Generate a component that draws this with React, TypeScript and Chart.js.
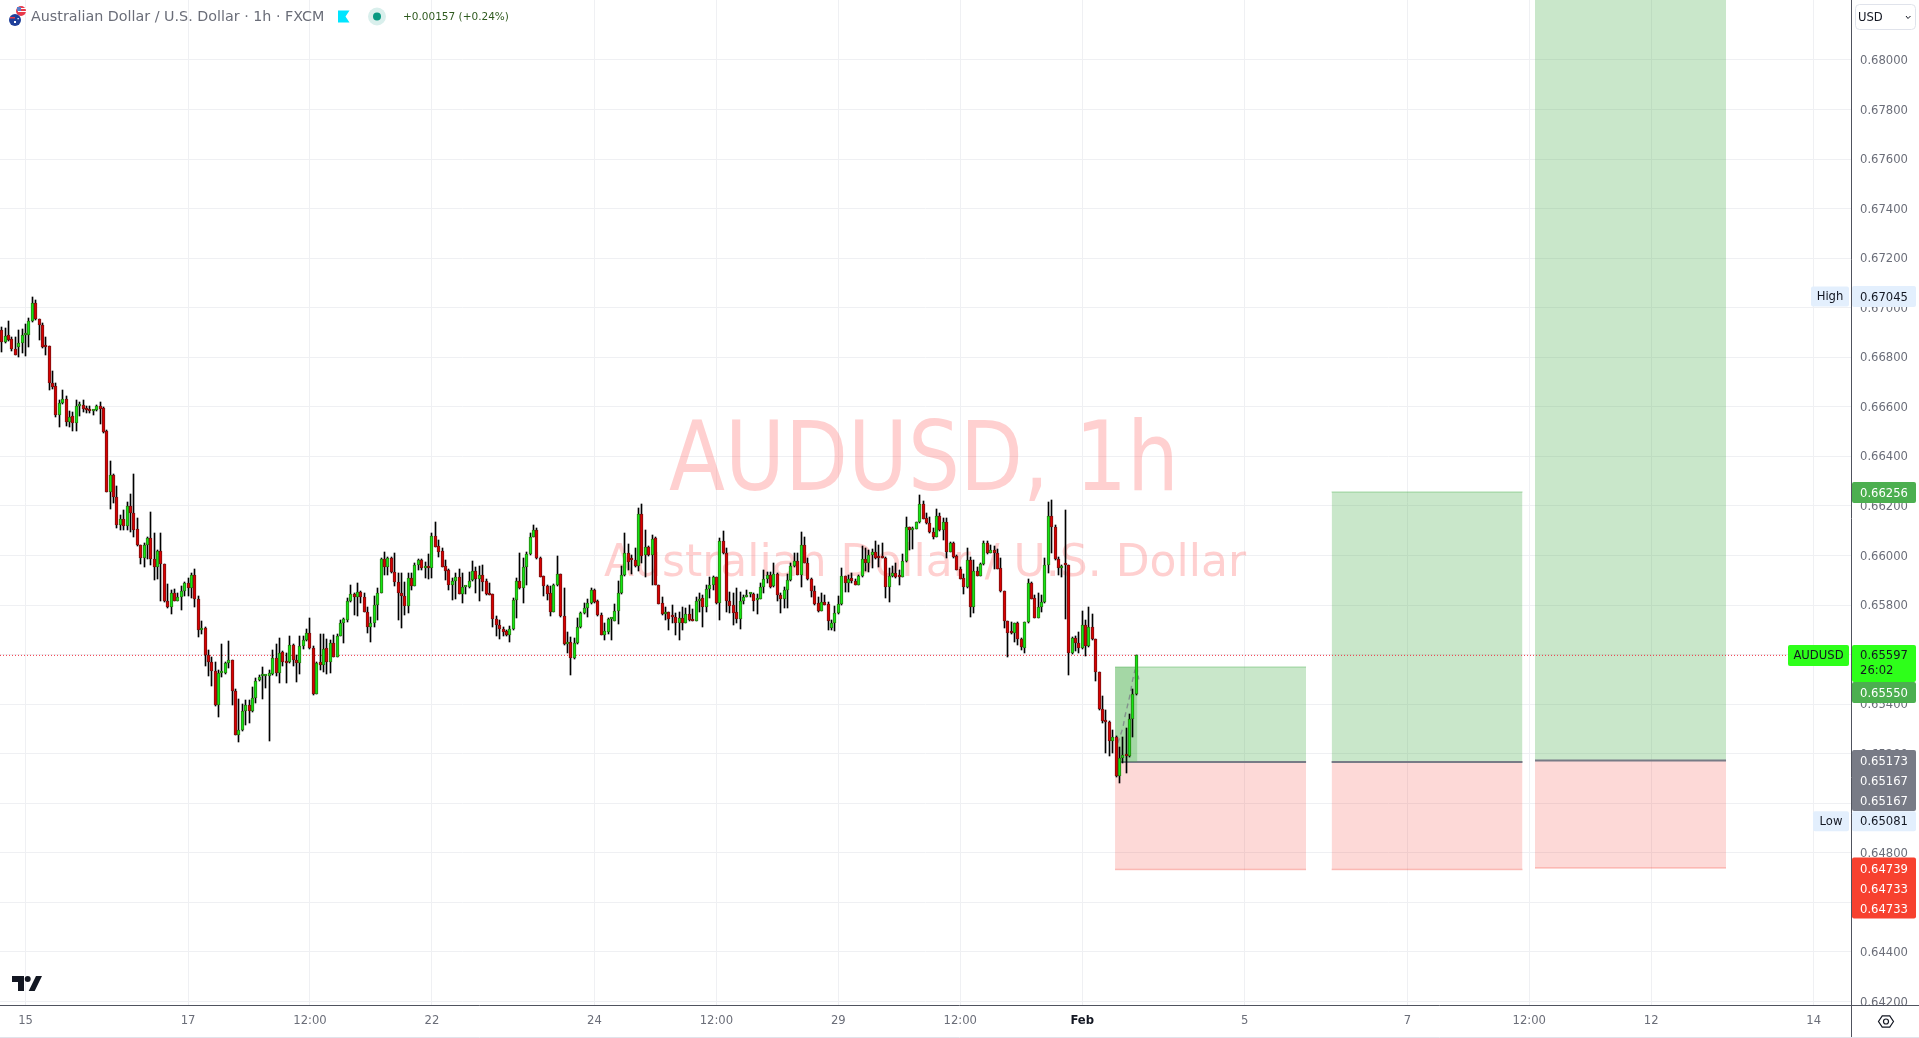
import React, { useEffect, useRef } from "react";
import { Chart, registerables } from "chart.js";

Chart.register(...registerables);

const toPrice = (p: number) => p / 100000;

const opens = [66910,66863,66889,66873,66832,66843,66856,66889,66889,66945,
67018,66953,66929,66844,66844,66695,66683,66569,66614,66630,
66540,66563,66534,66604,66606,66594,66586,66585,66586,66604,
66595,66501,66258,66324,66235,66123,66146,66121,66199,66171,
66106,66044,65992,66041,66070,65985,65953,66017,65965,65818,
65794,65848,65818,65834,65858,65888,65867,65920,65823,65698,
65708,65600,65569,65532,65396,65525,65525,65565,65577,65452,
65277,65294,65374,65396,65372,65424,65497,65513,65514,65515,
65522,65585,65524,65611,65569,65569,65638,65580,65565,65634,
65658,65686,65628,65443,65569,65560,65626,65569,65646,65592,
65677,65727,65741,65815,65844,65832,65852,65834,65774,65711,
65727,65799,65850,65985,65955,65989,65935,65895,65850,65837,
65798,65908,65879,65961,
65982,65951,65952,65949,66079,66039,66019,65957,65942,65883,
65899,65912,65846,65872,65872,65901,65936,65904,65920,65896,
65848,65845,65743,65719,65705,65694,65680,65702,65821,65896,
65867,65953,66005,66074,66103,65989,65916,65877,65848,65774,
65880,65924,65754,65642,65650,65588,65646,65711,65767,65787,
65807,65860,65815,65760,65681,65692,65743,65737,65775,65848,
65920,66009,65982,65982,65958,66166,66001,66033,66004,66070,
65883,65807,65763,65772,65751,65751,65729,65747,65729,65763,
65743,65737,65815,65828,65794,65864,65883,65912,65810,66058,
66009,65817,65799,65771,65744,65815,65832,65843,65845,65820,
65826,65872,65904,65920,65875,65924,65840,65823,65861,65901,
65957,65977,65923,66041,65971,65904,65856,65807,65778,65814,
65803,65709,65727,65767,65803,65916,65888,65908,65896,65883,
65916,65985,65971,66001,66014,65993,65992,65990,65871,65919,
65928,65915,65915,65976,66114,66101,66109,66134,66208,66152,
66130,66095,66076,66160,66101,66134,66016,66049,65997,65945,
65908,65871,65982,65794,65936,65919,65965,66049,66012,66023,
66009,65949,65856,65735,65689,65689,65727,65663,65628,65731,
65888,65828,65747,65791,65811,65962,66160,66114,65985,65950,
65961,65961,65606,65666,65646,65626,65719,65635,65712,65662,
65529,65380,65331,65329,65250,65269,65112,65181,65199,65189,
65342,65440].map(toPrice);

const highs = [66924,66917,66947,66883,66881,66910,66913,66933,66959,67045,
67031,66953,66937,66883,66846,66745,66696,66628,66668,66644,
66585,66581,66628,66621,66628,66604,66604,66587,66608,66620,
66601,66507,66382,66329,66281,66164,66184,66216,66249,66329,
66152,66044,66052,66076,66176,66090,66023,66091,65966,65885,
65861,65865,65850,65877,65893,65908,65928,65946,65837,65736,
65711,65619,65592,65571,65538,65643,65572,65655,65579,65460,
65420,65401,65417,65415,65468,65505,65517,65549,65518,65538,
65619,65643,65666,65615,65608,65676,65642,65599,65676,65676,
65705,65747,65633,65571,65682,65682,65662,65659,65680,65684,
65740,65748,65830,65881,65850,65888,65856,65848,65791,65751,
65837,65867,65989,66014,65996,65993,66009,65928,65928,65895,
65931,65928,65969,65985,
65985,65975,66006,66092,66136,66063,66029,65982,65945,65908,
65928,65946,65928,65873,65935,65978,65953,65958,65962,65904,
65888,65845,65756,65740,65713,65700,65716,65828,65908,66009,
65989,66016,66090,66123,66110,65996,65918,65880,65875,65885,
65998,65926,65868,65693,65673,65666,65747,65774,65810,65823,
65867,65864,65821,65767,65727,65747,65744,65805,65899,65958,
66090,66047,66002,66029,66191,66207,66101,66039,66083,66076,
65883,65832,65794,65774,65801,65767,65774,65794,65787,65801,
65783,65832,65848,65841,65881,65915,65919,65915,66070,66099,
66029,65853,65848,65868,65854,65841,65861,65848,65850,65845,
65888,65942,65935,65935,65969,65928,65848,65872,65926,65969,
66009,66012,66095,66076,65989,65908,65875,65834,65848,65841,
65814,65740,65797,65837,65949,65918,65922,65928,65907,65922,
66039,66029,66023,66025,66058,66043,66052,65993,65949,65958,
65969,65942,66006,66157,66117,66114,66137,66244,66222,66170,
66157,66110,66187,66170,66150,66150,66056,66056,66002,65955,
65926,66029,65996,65982,65955,65969,66059,66059,66041,66040,
66025,65992,65856,65737,65733,65729,65733,65666,65733,65904,
65895,65841,65848,65841,65989,66216,66224,66123,65996,65962,
66184,65962,65673,65677,65693,65778,65740,65791,65763,65665,
65530,65433,65377,65334,65296,65272,65229,65269,65303,65361,
65460,65597].map(toPrice);

const lows = [66823,66859,66867,66827,66809,66803,66819,66805,66843,66944,
66951,66870,66839,66811,66668,66674,66561,66520,66612,66523,
66520,66504,66504,66563,66581,66577,66577,66569,66585,66531,
66496,66258,66189,66214,66110,66103,66101,66101,66095,66076,
66039,65967,65955,65985,65962,65903,65907,65818,65814,65790,
65762,65815,65817,65780,65837,65837,65830,65794,65671,65684,
65554,65515,65475,65394,65350,65509,65522,65545,65398,65275,
65249,65292,65318,65323,65369,65404,65495,65419,65466,65253,
65517,65514,65487,65554,65487,65568,65554,65491,65522,65624,
65657,65624,65439,65442,65538,65530,65522,65525,65589,65591,
65676,65646,65732,65813,65759,65754,65810,65772,65686,65651,
65713,65740,65848,65922,65922,65928,65877,65740,65708,65760,
65767,65861,65877,65942,
65942,65908,65904,65908,66033,65996,65953,65901,65861,65821,
65823,65844,65810,65845,65869,65899,65850,65818,65857,65841,
65841,65713,65676,65665,65676,65676,65651,65700,65748,65864,
65810,65880,66002,66074,65985,65912,65837,65821,65756,65772,
65877,65751,65638,65608,65516,65584,65643,65709,65764,65751,
65805,65810,65756,65678,65659,65684,65659,65735,65724,65845,
65918,65942,65926,65955,65939,65969,65915,65998,65881,65880,
65805,65759,65740,65700,65727,65680,65659,65700,65727,65737,
65735,65735,65774,65711,65774,65828,65861,65805,65740,66006,
65774,65770,65720,65727,65705,65805,65832,65834,65778,65762,
65823,65848,65888,65868,65872,65818,65770,65787,65787,65899,
65953,65920,65872,65969,65901,65832,65802,65774,65775,65799,
65700,65700,65697,65764,65801,65854,65854,65891,65880,65880,
65914,65939,65935,65949,65985,65953,65989,65830,65814,65915,
65910,65881,65912,65974,66023,66025,66106,66133,66148,66127,
66090,66066,66074,66099,66063,65988,66014,65990,65942,65904,
65845,65868,65750,65767,65918,65918,65962,66006,66009,65945,
65945,65853,65706,65592,65685,65653,65639,65619,65608,65729,
65823,65746,65746,65774,65810,65931,66009,65982,65922,65915,
65743,65516,65603,65616,65608,65624,65595,65632,65659,65495,
65377,65323,65205,65189,65205,65105,65081,65162,65124,65186,
65269,65439].map(toPrice);

const closes = [66863,66887,66870,66832,66811,66856,66889,66890,66945,67018,
66953,66929,66840,66843,66695,66682,66569,66614,66630,66540,
66561,66534,66604,66605,66593,66586,66585,66587,66604,66593,
66500,66258,66324,66235,66123,66146,66121,66199,66171,66103,
66044,65992,66041,66070,65985,65953,66017,65965,65818,65793,
65848,65818,65834,65858,65888,65867,65920,65823,65698,65706,
65598,65569,65532,65396,65525,65526,65565,65577,65452,65277,
65294,65374,65396,65372,65424,65495,65511,65514,65515,65524,
65585,65524,65608,65569,65568,65638,65580,65565,65634,65658,
65686,65628,65443,65568,65560,65624,65569,65646,65592,65677,
65727,65743,65815,65844,65832,65852,65834,65774,65711,65727,
65799,65850,65985,65955,65989,65935,65895,65850,65837,65798,
65908,65879,65961,65980,
65951,65952,65951,66079,66036,66016,65955,65939,65883,65899,
65912,65846,65872,65873,65899,65936,65904,65920,65895,65845,
65842,65743,65719,65705,65693,65680,65702,65821,65896,65867,
65953,66005,66074,66101,65988,65915,65875,65846,65774,65880,
65924,65754,65641,65649,65588,65646,65711,65767,65787,65807,
65861,65814,65758,65681,65694,65743,65744,65775,65848,65920,
66009,65975,65981,65958,66166,65998,66033,66002,66068,65883,
65805,65762,65772,65745,65750,65729,65747,65729,65763,65740,
65736,65815,65826,65794,65864,65883,65914,65809,66058,66009,
65815,65798,65770,65744,65815,65832,65842,65844,65818,65828,
65872,65907,65920,65872,65924,65840,65823,65861,65901,65958,
65977,65923,66041,65971,65904,65856,65805,65778,65813,65802,
65735,65727,65767,65803,65916,65888,65906,65896,65883,65916,
65985,65971,66001,66014,65988,65992,65991,65871,65919,65928,
65912,65914,65978,66114,66101,66106,66134,66208,66149,66130,
66094,66076,66160,66101,66134,66016,66049,65994,65943,65907,
65871,65982,65794,65936,65919,65965,66049,66012,66023,66009,
65947,65856,65735,65686,65686,65727,65662,65630,65731,65888,
65826,65747,65791,65811,65962,66160,66114,65985,65949,65958,
65960,65606,65666,65646,65626,65719,65635,65712,65662,65528,
65380,65331,65330,65250,65269,65112,65181,65195,65189,65342,
65440,65597].map(toPrice);

const xTickIndexes = [7, 55, 91, 127, 175, 211, 247, 283, 319, 367, 415, 451, 487, 535];
const xTickLabels = ["15", "17", "12:00", "22", "24", "12:00", "29", "12:00", "Feb", "5", "7", "12:00", "12", "14"];
const yTickValues = [0.642, 0.644, 0.646, 0.648, 0.65, 0.652, 0.654, 0.656, 0.658, 0.66, 0.662, 0.664, 0.666, 0.668, 0.67, 0.672, 0.674, 0.676, 0.678, 0.68];

const xMin = -0.53;
const xMax = 546;
const yMin = 0.64186;
const yMax = 0.68242;

const lastPrice = 0.65597;
const highPrice = 0.67045;
const lowPrice = 0.65081;

// Long-position tools: start bar, end bar, entry, target, stop
const positionStarts = [328.7, 392.65, 452.7];
const positionEnds = [385.1, 449, 509.1];
const positionEntries = [0.65167, 0.65167, 0.65173];
const positionTargets = [0.6555, 0.66256, 0.69];
const positionStops = [0.64733, 0.64733, 0.64739];
const progressStart = 328.7;
const progressEnd = 335.3;

const projectionBars = [329.5, 331, 331.6, 333, 333.9, 334.6, 335.2, 334.6, 335.2, 335.7];
const projectionPrices = [0.65243, 0.65303, 0.6535, 0.6543, 0.65498, 0.65538, 0.65545, 0.655, 0.65545, 0.655];

const GREEN_BODY = "#14e614";
const GREEN_EDGE = "#2b7d14";
const RED_BODY = "#d80000";
const RED_EDGE = "#7c1010";
const FONT = '"DejaVu Sans", sans-serif';

const snapPlugin = {
  id: "snap",
  beforeDraw(chart: any) {
    ["x", "y"].forEach((id) => {
      const s = chart.scales[id];
      if (s.$shifted) return;
      s.$shifted = true;
      s.getLabelItems().forEach((it: any) => {
        it.textOffset += 1;
      });
    });
  },
  beforeDatasetsDraw(chart: any) {
    chart.data.datasets.forEach((d: any, idx: number) => {
      if (d.type !== "bar") return;
      chart.getDatasetMeta(idx).data.forEach((el: any) => {
        el.x = Math.floor(el.x) + 0.5;
        el.y = Math.round(el.y);
        el.base = Math.round(el.base);
      });
    });
  },
};

const watermarkPlugin = {
  id: "watermark",
  beforeDatasetsDraw(chart: any) {
    const ctx = chart.ctx;
    ctx.save();
    ctx.fillStyle = "rgba(255,82,82,0.27)";
    ctx.textAlign = "center";
    ctx.textBaseline = "alphabetic";
    ctx.font = `44px ${FONT}`;
    ctx.fillText("Australian Dollar / U.S. Dollar", 925, 576);
    ctx.translate(924, 490);
    ctx.scale(0.853, 1);
    ctx.font = `96px ${FONT}`;
    ctx.fillText("AUDUSD, 1h", 0, 0);
    ctx.restore();
  },
};

function tag(ctx: any, x: number, y: number, w: number, h: number, bg: string, r = 2) {
  ctx.fillStyle = bg;
  ctx.beginPath();
  ctx.roundRect(x, y, w, h, r);
  ctx.fill();
}

const overlayPlugin = {
  id: "overlay",
  afterDraw(chart: any) {
    const ctx = chart.ctx;
    const y = chart.scales.y;
    const at = (p: number) => y.getPixelForValue(p);
    const AX = 1851;
    const txt = (s: string, px: number, py: number) => ctx.fillText(s, px, py + 1);
    ctx.save();

    // axis corner
    ctx.fillStyle = "#ffffff";
    ctx.fillRect(AX + 1, 1005, 68, 33);
    ctx.strokeStyle = "#50535e";
    ctx.lineWidth = 1;
    ctx.beginPath();
    ctx.moveTo(0, 1005.5);
    ctx.lineTo(1919, 1005.5);
    ctx.moveTo(AX + 0.5, 0);
    ctx.lineTo(AX + 0.5, 1037);
    ctx.stroke();
    ctx.strokeStyle = "#e0e3eb";
    ctx.beginPath();
    ctx.moveTo(0, 1037.5);
    ctx.lineTo(1919, 1037.5);
    ctx.stroke();

    ctx.textBaseline = "middle";
    ctx.textAlign = "left";
    const priceFont = `11.6px ${FONT}`;

    const priceTag = (price: number, offset: number, bg: string, fg: string, text: string) => {
      const c = at(price) + offset;
      tag(ctx, AX + 1, c - 10.5, 64, 21, bg);
      ctx.fillStyle = fg;
      ctx.font = priceFont;
      txt(text, 1860, c);
    };

    // High
    tag(ctx, 1811, at(highPrice) - 10, 38, 20, "#e3effd");
    ctx.fillStyle = "#131722";
    ctx.font = priceFont;
    ctx.textAlign = "center";
    txt("High", 1830, at(highPrice) - 1);
    ctx.textAlign = "left";
    priceTag(highPrice, 0, "#e3effd", "#131722", highPrice.toFixed(5));

    // Target 2
    priceTag(positionTargets[1], 0.5, "#4caf50", "#ffffff", positionTargets[1].toFixed(5));

    // Current price
    tag(ctx, 1788, at(lastPrice) - 10.5, 61, 21, "#2eff1a");
    ctx.fillStyle = "#131722";
    ctx.textAlign = "center";
    txt("AUDUSD", 1818.5, at(lastPrice));
    ctx.textAlign = "left";
    tag(ctx, AX + 1, at(lastPrice) - 10.5, 64, 37, "#2eff1a");
    ctx.fillStyle = "#131722";
    txt(lastPrice.toFixed(5), 1860, at(lastPrice));
    txt("26:02", 1860, at(lastPrice) + 15);

    // Target 1
    tag(ctx, AX + 1, 682, 64, 21, "#4caf50");
    ctx.fillStyle = "#ffffff";
    txt(positionTargets[0].toFixed(5), 1860, 693);

    // Entries
    tag(ctx, AX + 1, at(positionEntries[2]) - 10.5, 64, 61, "#787b86");
    ctx.fillStyle = "#ffffff";
    txt(positionEntries[2].toFixed(5), 1860, at(positionEntries[2]) + 1);
    txt(positionEntries[1].toFixed(5), 1860, at(positionEntries[1]) + 19);
    txt(positionEntries[0].toFixed(5), 1860, at(positionEntries[0]) + 39);

    // Low
    const lowCenter = at(lowPrice) + 38;
    tag(ctx, 1813, lowCenter - 10, 36, 20, "#e3effd");
    ctx.fillStyle = "#131722";
    ctx.textAlign = "center";
    txt("Low", 1831, lowCenter);
    ctx.textAlign = "left";
    tag(ctx, AX + 1, lowCenter - 10, 64, 20, "#e3effd");
    ctx.fillStyle = "#131722";
    txt(lowPrice.toFixed(5), 1860, lowCenter);

    // Stops
    tag(ctx, AX + 1, at(positionStops[2]) - 10.5, 64, 61, "#f7412f");
    ctx.fillStyle = "#ffffff";
    txt(positionStops[2].toFixed(5), 1860, at(positionStops[2]) + 1);
    txt(positionStops[1].toFixed(5), 1860, at(positionStops[1]) + 20);
    txt(positionStops[0].toFixed(5), 1860, at(positionStops[0]) + 40);

    // Currency select
    ctx.strokeStyle = "#e0e3eb";
    ctx.fillStyle = "#ffffff";
    ctx.beginPath();
    ctx.roundRect(1855.5, 4.5, 60, 25, 4);
    ctx.fill();
    ctx.stroke();
    ctx.fillStyle = "#131722";
    txt("USD", 1858, 17);
    ctx.strokeStyle = "#131722";
    ctx.beginPath();
    ctx.moveTo(1906, 16);
    ctx.lineTo(1908, 18.5);
    ctx.lineTo(1910.5, 16);
    ctx.stroke();

    // Settings icon
    ctx.strokeStyle = "#131722";
    ctx.lineWidth = 1.2;
    ctx.beginPath();
    for (let k = 0; k < 6; k++) {
      const a = (Math.PI / 3) * k;
      const px = 1886 + 7.5 * Math.cos(a);
      const py = 1021.5 + 6.5 * Math.sin(a);
      if (k === 0) ctx.moveTo(px, py);
      else ctx.lineTo(px, py);
    }
    ctx.closePath();
    ctx.stroke();
    ctx.beginPath();
    ctx.arc(1886, 1021.5, 2.5, 0, Math.PI * 2);
    ctx.stroke();

    // Logo
    ctx.fillStyle = "#131722";
    ctx.beginPath();
    ctx.moveTo(12, 976);
    ctx.lineTo(24, 976);
    ctx.lineTo(24, 991);
    ctx.lineTo(18, 991);
    ctx.lineTo(18, 982);
    ctx.lineTo(12, 982);
    ctx.closePath();
    ctx.moveTo(36, 976);
    ctx.lineTo(42, 976);
    ctx.lineTo(34.7, 991);
    ctx.lineTo(28.7, 991);
    ctx.closePath();
    ctx.fill();
    ctx.beginPath();
    ctx.arc(27.7, 979, 3, 0, Math.PI * 2);
    ctx.fill();

    // Header
    ctx.fillStyle = "#e8394a";
    ctx.beginPath();
    ctx.arc(21, 11, 5, 0, Math.PI * 2);
    ctx.fill();
    ctx.fillStyle = "#ffffff";
    ctx.fillRect(18, 8, 8, 1);
    ctx.fillRect(18, 11, 8, 1);
    ctx.fillStyle = "#5b7fc7";
    ctx.fillRect(17, 7, 4, 4);
    ctx.fillStyle = "#1f3f9a";
    ctx.beginPath();
    ctx.arc(15, 20, 6, 0, Math.PI * 2);
    ctx.fill();
    ctx.fillStyle = "#e8394a";
    ctx.fillRect(10, 17, 5, 1.5);
    ctx.fillStyle = "#ffffff";
    ctx.fillRect(14, 21, 2, 2);
    ctx.fillRect(17.5, 18, 1.3, 1.3);

    ctx.fillStyle = "#6a6d78";
    ctx.font = `14.3px ${FONT}`;
    ctx.fillText("Australian Dollar / U.S. Dollar · 1h · FXCM", 31, 17);

    ctx.fillStyle = "#00e5ff";
    ctx.beginPath();
    ctx.moveTo(338, 10.5);
    ctx.lineTo(349.5, 10.5);
    ctx.lineTo(345.5, 16.5);
    ctx.lineTo(349.5, 22.5);
    ctx.lineTo(338, 22.5);
    ctx.closePath();
    ctx.fill();

    ctx.fillStyle = "#d9efec";
    ctx.beginPath();
    ctx.arc(377, 16.5, 9, 0, Math.PI * 2);
    ctx.fill();
    ctx.fillStyle = "#089981";
    ctx.beginPath();
    ctx.arc(377, 16.5, 4, 0, Math.PI * 2);
    ctx.fill();

    ctx.fillStyle = "#2f5a1f";
    ctx.font = `10.5px ${FONT}`;
    ctx.fillText("+0.00157 (+0.24%)", 403, 17);
    ctx.restore();
  },
};

export default function App() {
  const ref = useRef<HTMLCanvasElement>(null);
  useEffect(() => {
    if (!ref.current) return;
    const isUp = opens.map((o, i) => closes[i] >= o);
    const boxDatasets: any[] = [];
    positionStarts.forEach((s, k) => {
      const e = positionEnds[k];
      boxDatasets.push({
        type: "line",
        order: 6,
        data: [{ x: s, y: positionEntries[k] }, { x: e, y: positionEntries[k] }],
        borderColor: "#787b86",
        borderWidth: 2,
        pointRadius: 0,
        fill: false,
      });
      boxDatasets.push({
        type: "line",
        order: 7,
        data: [{ x: s, y: positionTargets[k] }, { x: e, y: positionTargets[k] }],
        borderColor: "rgba(76,175,80,0.32)",
        borderWidth: 1.5,
        backgroundColor: "rgba(76,175,80,0.3)",
        pointRadius: 0,
        fill: { value: positionEntries[k] },
      });
      boxDatasets.push({
        type: "line",
        order: 7,
        data: [{ x: s, y: positionStops[k] }, { x: e, y: positionStops[k] }],
        borderColor: "rgba(244,67,54,0.3)",
        borderWidth: 1.5,
        backgroundColor: "rgba(244,67,54,0.2)",
        pointRadius: 0,
        fill: { value: positionEntries[k] },
      });
    });
    const chart = new Chart(ref.current, {
      type: "bar",
      data: {
        datasets: [
          {
            type: "bar",
            order: 0,
            data: opens.map((o, i) => ({ x: i, y: [o, closes[i]] })),
            backgroundColor: isUp.map((u) => (u ? GREEN_BODY : RED_BODY)),
            borderColor: isUp.map((u) => (u ? GREEN_EDGE : RED_EDGE)),
            borderWidth: 1,
            borderSkipped: false,
            barThickness: 3,
            minBarLength: 2,
            grouped: false,
          },
          {
            type: "bar",
            order: 1,
            data: lows.map((l, i) => ({ x: i, y: [l, highs[i]] })),
            backgroundColor: "#000000",
            borderWidth: 0,
            barThickness: 1,
            grouped: false,
          },
          {
            type: "line",
            order: 2,
            data: projectionBars.map((b, i) => ({ x: b, y: projectionPrices[i] })),
            borderColor: "rgba(120,123,134,0.75)",
            borderWidth: 1.4,
            borderDash: [5, 4],
            pointRadius: 0,
            fill: false,
          },
          {
            type: "line",
            order: 5,
            data: [{ x: xMin, y: lastPrice }, { x: xMax, y: lastPrice }],
            borderColor: "#f23645",
            borderWidth: 1,
            borderDash: [1, 2],
            pointRadius: 0,
            fill: false,
          },
          {
            type: "line",
            order: 6,
            data: [{ x: progressStart, y: positionTargets[0] }, { x: progressEnd, y: positionTargets[0] }],
            borderWidth: 0,
            backgroundColor: "rgba(76,175,80,0.3)",
            pointRadius: 0,
            fill: { value: positionEntries[0] },
          },
          ...boxDatasets,
        ] as any,
      },
      plugins: [snapPlugin, watermarkPlugin, overlayPlugin],
      options: {
        animation: false,
        responsive: false,
        devicePixelRatio: 1,
        events: [],
        layout: { padding: 0 },
        plugins: { legend: { display: false }, tooltip: { enabled: false }, title: { display: false } },
        scales: {
          x: {
            type: "linear",
            min: xMin,
            max: xMax,
            offset: false,
            grid: { offset: false, color: "#eff0f3", drawTicks: false },
            border: { display: false },
            afterBuildTicks: (s: any) => {
              s.ticks = xTickIndexes.map((value) => ({ value }));
            },
            afterFit: (s: any) => {
              s.height = 33;
              s.paddingLeft = 0;
              s.paddingRight = 0;
            },
            ticks: {
              autoSkip: false,
              maxRotation: 0,
              padding: 8,
              color: (c: any) => (c.tick && xTickLabels[xTickIndexes.indexOf(c.tick.value)] === "Feb" ? "#131722" : "#6a6d78"),
              font: (c: any) => ({
                family: "DejaVu Sans",
                size: 11.6,
                weight: c.tick && xTickLabels[xTickIndexes.indexOf(c.tick.value)] === "Feb" ? "bold" : "normal",
              }),
              callback: (v: any) => xTickLabels[xTickIndexes.indexOf(v)] ?? "",
            },
          },
          y: {
            type: "linear",
            position: "right",
            min: yMin,
            max: yMax,
            grid: { color: "#eff0f3", drawTicks: false },
            border: { display: false },
            afterBuildTicks: (s: any) => {
              s.ticks = yTickValues.map((value) => ({ value }));
            },
            afterFit: (s: any) => {
              s.width = 68;
              s.paddingTop = 0;
              s.paddingBottom = 0;
            },
            ticks: {
              autoSkip: false,
              padding: 9,
              color: "#6a6d78",
              font: { family: "DejaVu Sans", size: 11.6 },
              callback: (v: any) => Number(v).toFixed(5),
            },
          },
        },
      },
    } as any);
    return () => chart.destroy();
  }, []);
  return (
    <canvas
      ref={ref}
      width={1919}
      height={1038}
      style={{ position: "fixed", left: 0, top: 0, width: 1919, height: 1038, display: "block", background: "#ffffff" }}
    />
  );
}
